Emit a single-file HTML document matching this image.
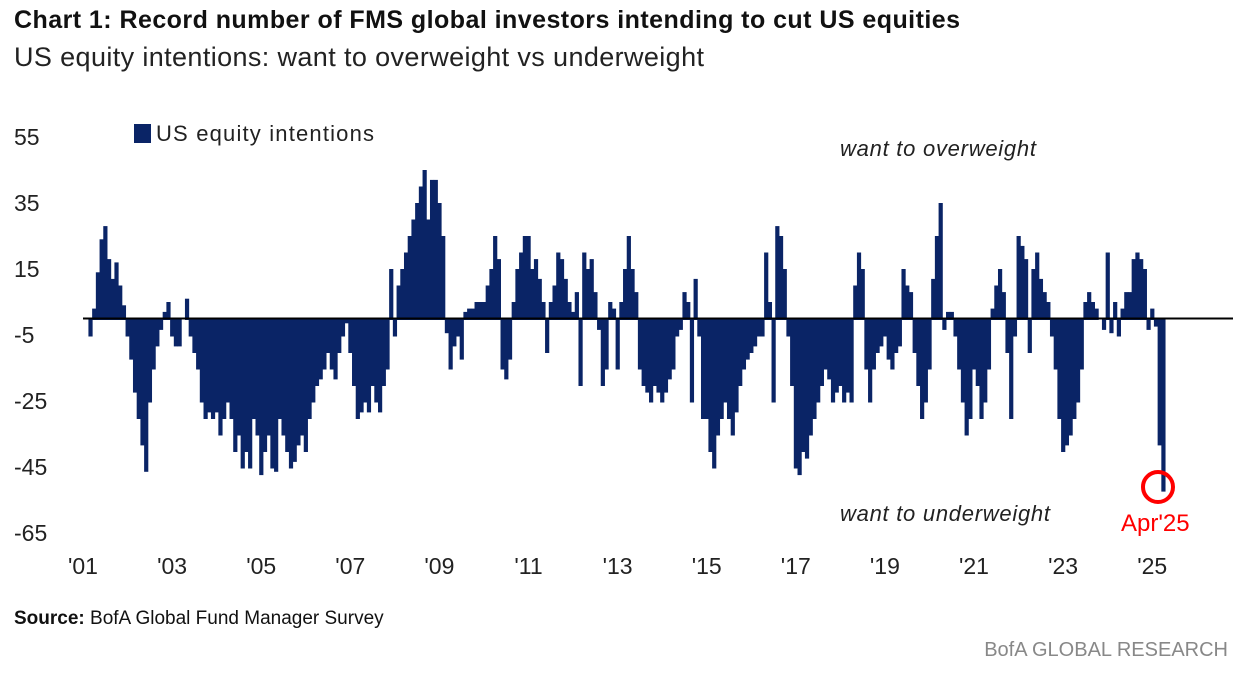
<!DOCTYPE html>
<html><head><meta charset="utf-8"><style>
body{margin:0;background:#fff;width:1244px;height:690px;overflow:hidden;font-family:"Liberation Sans",sans-serif}
svg{position:absolute;left:0;top:0}
</style></head><body>
<svg id="chart" width="1244" height="690">
<text x="14" y="28" font-size="25" font-weight="bold" fill="#111" textLength="946">Chart 1: Record number of FMS global investors intending to cut US equities</text>
<text x="14" y="66" font-size="27" fill="#222" textLength="690">US equity intentions: want to overweight vs underweight</text>
<g id="yaxis"></g>
<g id="xaxis"></g>
<g id="bars"></g>
<line x1="83" x2="1233" y1="318.5" y2="318.5" stroke="#000" stroke-width="2"/>
<rect x="134" y="124" width="17" height="19" fill="#0a2466"/>
<text x="156" y="141" font-size="22" fill="#222" textLength="218">US equity intentions</text>
<text x="840" y="156" font-size="22" font-style="italic" fill="#222" textLength="196">want to overweight</text>
<text x="840" y="521" font-size="22" font-style="italic" fill="#222" textLength="210">want to underweight</text>
<circle cx="1158" cy="487" r="15" fill="none" stroke="#ff0000" stroke-width="4"/>
<text x="1121" y="531" font-size="24" fill="#ff0000">Apr'25</text>
<text x="14" y="624" font-size="19" fill="#111"><tspan font-weight="bold">Source:</tspan>  BofA Global Fund Manager Survey</text>
<text x="1228" y="656" font-size="20" fill="#888" text-anchor="end">BofA GLOBAL RESEARCH</text>
</svg>
<script>
const yTicks=[55,35,15,-5,-25,-45,-65];
const xTickLabels=["'01","'03","'05","'07","'09","'11","'13","'15","'17","'19","'21","'23","'25"];
const xTickYears=[2001,2003,2005,2007,2009,2011,2013,2015,2017,2019,2021,2023,2025];
const startYear=2001;
const values=[
0,0,-5,3,14,24,28,18,12,17,10,4,
-5,-12,-22,-30,-38,-46,-25,-15,-8,-3,2,5,
-5,-8,-8,0,6,-5,-10,-15,-25,-30,-28,-30,
-28,-35,-30,-25,-30,-40,-35,-45,-40,-45,-30,-35,
-47,-40,-35,-45,-46,-30,-35,-40,-45,-43,-38,-35,
-40,-30,-25,-20,-18,-15,-10,-15,-18,-10,-5,-1,
-10,-20,-30,-28,-25,-28,-20,-25,-28,-20,-15,15,
-5,10,15,20,25,30,35,40,45,30,42,42,
35,25,-4,-15,-8,-5,-12,2,3,3,5,5,
5,10,15,25,18,-15,-18,-12,5,15,20,25,
25,15,18,12,5,-10,5,10,20,18,12,5,
2,8,-20,20,15,18,8,-3,-20,-15,5,3,
-15,5,15,25,15,8,-15,-20,-22,-25,-20,-22,
-25,-22,-18,-15,-5,-3,8,5,-25,12,-5,-30,
-30,-40,-45,-35,-30,-25,-30,-35,-28,-20,-15,-12,
-10,-8,-5,-5,20,5,-25,28,25,15,-5,-20,
-45,-47,-40,-42,-35,-30,-25,-20,-15,-18,-25,-22,
-20,-25,-22,-25,10,20,15,-15,-25,-15,-10,-8,
-5,-12,-15,-10,-8,15,10,8,-10,-20,-30,-25,
-15,12,25,35,-3,2,2,-5,-15,-25,-35,-30,
-15,-20,-30,-25,-15,3,10,15,8,-10,-30,-5,
25,22,18,-10,15,20,12,8,5,-5,-15,-30,
-40,-38,-35,-30,-25,-15,5,8,5,3,0,-3,
20,-4,5,-5,3,8,8,18,20,18,15,-3,
3,-2,-38,-52
];
const NS="http://www.w3.org/2000/svg";
function yS(v){return 318.5-v*3.3;}
function xS(m){return 83+m*(44.55/12);}
const ya=document.getElementById('yaxis');
yTicks.forEach(t=>{
 const e=document.createElementNS(NS,'text');
 e.setAttribute('x',14);e.setAttribute('y',yS(t)+8);e.setAttribute('font-size','23');e.setAttribute('fill','#222');
 e.textContent=t;
 
 
 ya.appendChild(e);
});
const xa=document.getElementById('xaxis');
xTickLabels.forEach((l,i)=>{
 const e=document.createElementNS(NS,'text');
 e.setAttribute('x',xS((xTickYears[i]-startYear)*12));e.setAttribute('y',574);e.setAttribute('font-size','23');e.setAttribute('fill','#222');e.setAttribute('text-anchor','middle');
 e.textContent=l;
 
 
 xa.appendChild(e);
});
const bg=document.getElementById('bars');
values.forEach((v,i)=>{
 if(v===0)return;
 const r=document.createElementNS(NS,'rect');
 const y0=yS(0),y1=yS(v);
 r.setAttribute('x',xS(i)-2);r.setAttribute('width',4.2);
 r.setAttribute('y',Math.min(y0,y1));r.setAttribute('height',Math.abs(y1-y0)+1.5);
 r.setAttribute('fill','#0a2466');
 
 
 bg.appendChild(r);
});
</script>
</body></html>
